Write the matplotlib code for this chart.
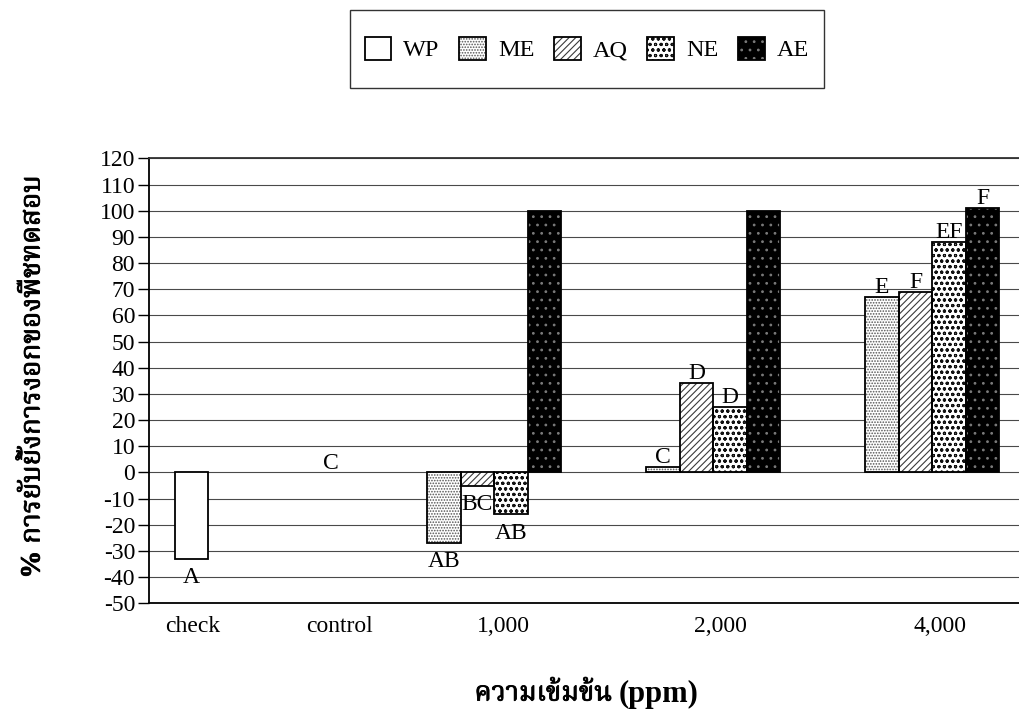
import numpy as np
import matplotlib
matplotlib.use("Agg")
import matplotlib.pyplot as plt
import matplotlib.patheffects as pe
from matplotlib import font_manager
from matplotlib.ft2font import FT2Font
from matplotlib.legend_handler import HandlerTuple
from matplotlib.patches import Rectangle

# Inhibition (%) per concentration for each extract
categories = ["check", "1,000", "2,000", "4,000"]
series = ["WP", "ME", "AQ", "NE", "AE"]
wp = [-33, 0, 0, 0]
me = [0, -27, 2, 67]
aq = [0, -5, 34, 69]
ne = [0, -16, 25, 88]
ae = [0, 100, 100, 101]

# DMRT letters (None = no letter shown)
wp_letters = ["A", None, None, None]
me_letters = [None, "AB", "C", "E"]
aq_letters = [None, "BC", "D", "F"]
ne_letters = [None, "AB", "D", "EF"]
ae_letters = [None, None, None, "F"]
control_letter = "C"

tick_labels = ["check", "control", "1,000", "2,000", "4,000"]
ylabel = "% การยับยั้งการงอกของพืชทดสอบ"
xlabel_th = "ความเข้มข้น"
xlabel_unit = "(ppm)"


def find_thai_font():
    # pick any installed font that actually has Thai glyphs
    prefer = ["Noto Serif Thai", "Noto Sans Thai", "Norasi", "Garuda", "Loma", "Kinnari"]
    found = []
    for f in font_manager.fontManager.ttflist:
        try:
            cmap = FT2Font(f.fname).get_charmap()
        except Exception:
            continue
        if 0x0E01 in cmap and 0x0E22 in cmap:
            found.append(f.name)
    for p in prefer:
        if p in found:
            return p
    return found[0] if found else "DejaVu Sans"


thai = find_thai_font()
serif = "Liberation Serif"
plt.rcParams["font.family"] = [serif, thai]
plt.rcParams["axes.unicode_minus"] = False
plt.rcParams["hatch.linewidth"] = 0.8

styles = {
    "WP": dict(color="white", hatch=None, hcolor="white"),
    "ME": dict(color="white", hatch="......", hcolor="#555555"),
    "AQ": dict(color="white", hatch="/////", hcolor="#3a3a3a"),
    "NE": dict(color="white", hatch="ooo", hcolor="#111111"),
    "AE": dict(color="black", hatch="..", hcolor="#7a7a7a"),
}

fig = plt.figure(figsize=(10.2, 7.14), dpi=100)
ax = fig.add_axes([149 / 1020, 0.155, 876 / 1020, 0.6232])

values = [wp, me, aq, ne, ae]
letters = [wp_letters, me_letters, aq_letters, ne_letters, ae_letters]
x = np.arange(len(categories)) + 0.5
w = 0.153

handles = []
for i, name in enumerate(series):
    vals = np.array(values[i], dtype=float)
    keep = vals != 0
    xs = x[keep] + (i - 2) * w
    st = styles[name]
    fill = ax.bar(xs, vals[keep], w, color=st["color"], hatch=st["hatch"],
                  edgecolor=st["hcolor"], linewidth=0, zorder=3)
    edge = ax.bar(xs, vals[keep], w, fill=False, edgecolor="black",
                  linewidth=1.3, zorder=4)
    handles.append((fill, edge))
    for xi, v, lab in zip(x + (i - 2) * w, vals, letters[i]):
        if lab is None:
            continue
        if v >= 0:
            ax.annotate(lab, (xi, v), xytext=(0, 3), textcoords="offset points",
                        ha="center", va="baseline", fontsize=17, zorder=5)
        else:
            ax.annotate(lab, (xi, v), xytext=(0, -6), textcoords="offset points",
                        ha="center", va="top", fontsize=17, zorder=5)

ax.text(0.83, 1.5, control_letter, ha="center", va="baseline", fontsize=17)

ax.set_xlim(0, 4)
ax.set_ylim(-50, 120)
ax.set_yticks(np.arange(-50, 121, 10))
ax.tick_params(axis="y", direction="out", length=8, width=1, labelsize=17, pad=2)
ax.set_xticks([0.20, 0.87, 1.62, 2.61, 3.61], tick_labels)
ax.tick_params(axis="x", length=0, labelsize=17, pad=9)
ax.yaxis.grid(True, color="#4a4a4a", linewidth=0.8)
ax.set_axisbelow(True)
for s in ["left", "bottom"]:
    ax.spines[s].set_linewidth(1.3)
ax.spines["top"].set_color("#333333")
ax.spines["top"].set_linewidth(1.3)
ax.spines["right"].set_visible(False)

# axis titles; the Thai font has no bold face, so stroke it a little
bold = [pe.withStroke(linewidth=0.6, foreground="black")]
fig.text(33 / 1020, 1 - 377 / 714, ylabel, rotation=90, ha="center", va="center",
         fontsize=20, fontweight="bold", path_effects=bold)
fig.text(612 / 1020, 1 - 694 / 714, xlabel_th, ha="right", va="center",
         fontsize=19.5, fontweight="bold", path_effects=bold)
fig.text(619 / 1020, 1 - 694 / 714, xlabel_unit, ha="left", va="center",
         fontsize=22, fontweight="bold")

leg = fig.legend(handles, series, handler_map={tuple: HandlerTuple(ndivide=1)},
                 loc="center", bbox_to_anchor=(587 / 1020, 1 - 49 / 714), ncol=5,
                 frameon=False, fontsize=17.5,
                 handlelength=1.1, handleheight=1.1, handletextpad=0.5,
                 columnspacing=0.8, borderpad=0.9)
# legend box drawn separately (wider top/bottom margin than borderpad allows)
fig.add_artist(Rectangle((350 / 1020, 1 - 88 / 714), 474 / 1020, 78 / 714,
                         transform=fig.transFigure, fill=False,
                         edgecolor="#333333", linewidth=1.0))

fig.savefig("out.png", dpi=100)
